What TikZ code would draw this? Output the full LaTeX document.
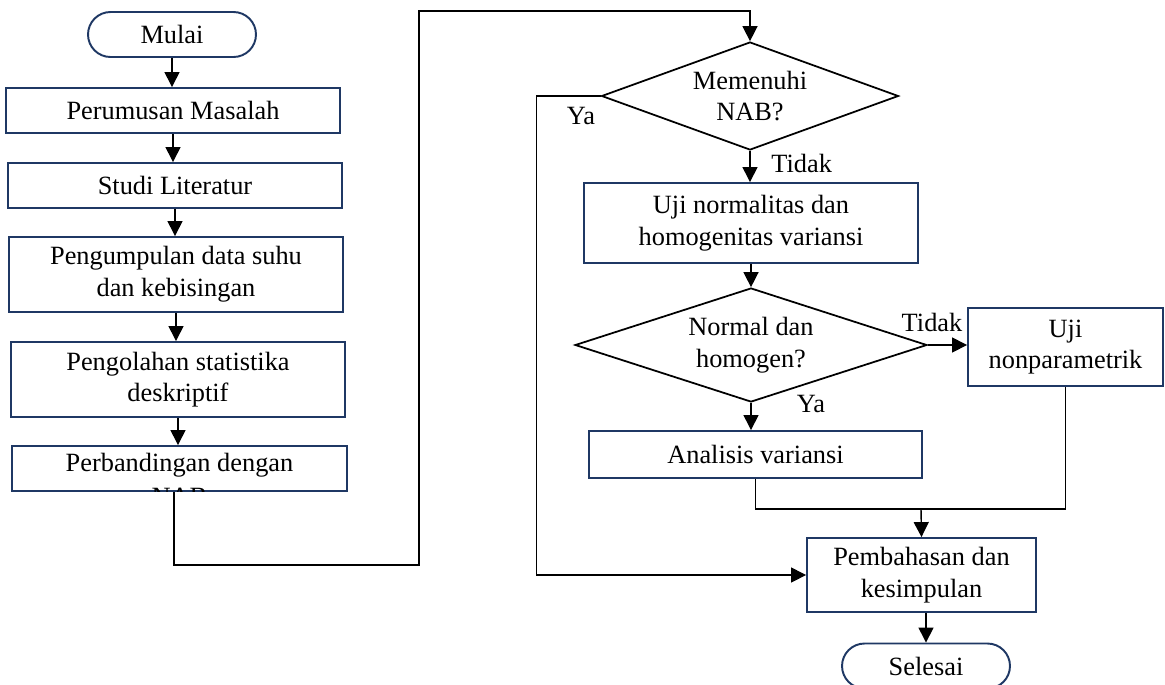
\documentclass[tikz,border=0pt]{standalone}
\usepackage{fontspec}
\setmainfont{Liberation Serif}
\usepackage{tikz}
\usetikzlibrary{shapes.geometric}
\usetikzlibrary{arrows.meta}
\definecolor{navy}{HTML}{1F3864}
\tikzset{
    proses/.style={shape=rectangle, draw=navy, line width=1.1pt, align=center, inner sep=0pt},
    keputusan/.style={shape=diamond, draw=black, line width=1pt, align=center, inner sep=0pt},
    terminal/.style={shape=rectangle, rounded corners=0.45cm, draw=navy, line width=1.1pt, minimum width=3.36cm, minimum height=0.9cm},
    label teks/.style={inner sep=0pt},
    panah/.style={draw=black, line width=0.8pt, -{Triangle[length=8.5pt,width=8.5pt]}},
    garis/.style={draw=black, line width=0.8pt}}

\begin{document}
\begin{tikzpicture}[x=0.02cm, y=-0.02cm, font=\fontsize{15}{18}\selectfont]
        \useasboundingbox (0,0) rectangle (1165,684);

                    \node[terminal] (mulai) at (172,34.5) {Mulai};
                    \node[proses, minimum width=6.68cm, minimum height=0.9cm] (rumus) at (173,110.5) {Perumusan Masalah};
                    \node[proses, minimum width=6.68cm, minimum height=0.9cm] (studi) at (175,185.5) {Studi Literatur};
                    \node[proses, minimum width=6.68cm, minimum height=1.5cm] (kumpul) at (176,274.5) {Pengumpulan data suhu\\dan kebisingan};
                    \node[proses, minimum width=6.68cm, minimum height=1.5cm] (olah) at (178,379.5) {Pengolahan statistika\\deskriptif};
                    \node[proses, minimum width=6.7cm, minimum height=0.9cm] (banding) at (179.5,468.5) {};
                    \begin{scope}
                        \clip (banding.south west) rectangle (banding.north east);
                        \node[anchor=base] (banding1) at (179.5,471) {Perbandingan dengan};
                        \node[anchor=base] (banding2) at (179.5,505) {NAB};
                    \end{scope}

                    \node[keputusan, minimum width=5.94cm, minimum height=2.16cm, aspect=2.75] (nab) at (750,96) {Memenuhi\\NAB?};
                    \node[proses, minimum width=6.68cm, minimum height=1.6cm] (ujinorm) at (751,223) {Uji normalitas dan\\homogenitas variansi};
                    \node[keputusan, minimum width=7.04cm, minimum height=2.28cm, aspect=3.09] (normal) at (751,345) {Normal dan\\homogen?};
                    \node[proses, minimum width=3.9cm, minimum height=1.56cm] (nonpar) at (1065.5,347) {Uji\\nonparametrik};
                    \node[proses, minimum width=6.66cm, minimum height=0.94cm] (anova) at (755.5,454.5) {Analisis variansi};
                    \node[proses, minimum width=4.58cm, minimum height=1.48cm] (bahas) at (921.5,575) {Pembahasan dan\\kesimpulan};
                    \node[terminal] (selesai) at (926,666) {Selesai};

                    \coordinate (belok1) at (419,565);
                    \coordinate (belok2) at (419,11);
                    \coordinate (gabung) at (921,509);

                    \draw[panah] (mulai.south) -- (mulai.south |- rumus.north);
                    \draw[panah] (rumus.south) -- (rumus.south |- studi.north);
                    \draw[panah] (studi.south) -- (studi.south |- kumpul.north);
                    \draw[panah] (kumpul.south) -- (kumpul.south |- olah.north);
                    \draw[panah] (olah.south) -- (olah.south |- banding.north);
                    \draw[panah] ([xshift=-0.11cm]banding.south) |- (belok1) -- (belok2) -| (nab.north);

                    \draw[panah] (nab.west) -- ++(-64,0) |- (bahas.west);
                    \node[label teks] (ya1) at (581,116) {Ya};
                    \draw[panah] (nab.south) -- (nab.south |- ujinorm.north);
                    \node[label teks, anchor=west] (tidak1) at (771,163) {Tidak};
                    \draw[panah] (ujinorm.south) -- (ujinorm.south |- normal.north);
                    \draw[panah] (normal.east) -- (normal.east -| nonpar.west);
                    \node[label teks] (tidak2) at (932,322) {Tidak};
                    \draw[panah] (normal.south) -- (normal.south |- anova.north);
                    \node[label teks] (ya2) at (811,404) {Ya};
                    \draw[garis] (anova.south) |- (nonpar.south |- gabung) -- (nonpar.south);
                    \draw[panah] (gabung) -- (bahas.north);
                    \draw[panah] (selesai.north |- bahas.south) -- (selesai.north);

                \end{tikzpicture}
\end{document}
